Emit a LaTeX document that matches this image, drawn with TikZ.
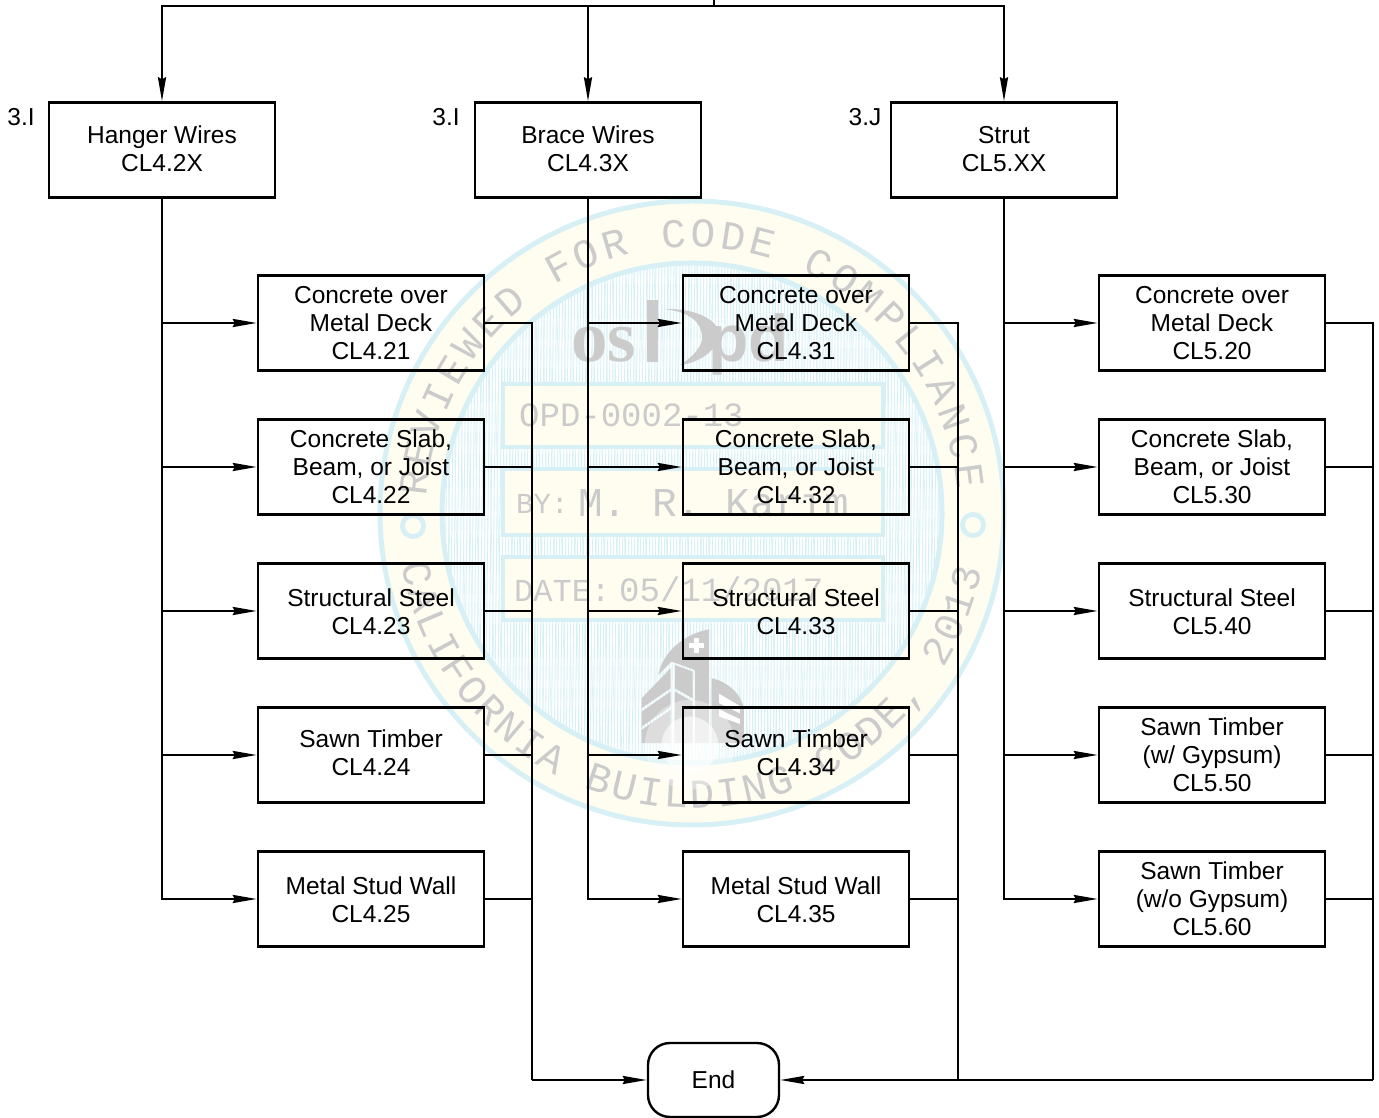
\documentclass[tikz,border=0pt]{standalone}
\usepackage{fontspec}
\setmainfont{Liberation Sans}
\newfontfamily\stampfont{Liberation Mono}
\newfontfamily\logofont{Liberation Serif}
\usetikzlibrary{arrows.meta,decorations.text}
\definecolor{stampcyan}{RGB}{214,240,245}
\definecolor{stampivory}{RGB}{255,253,240}
\definecolor{stampgray}{RGB}{203,203,203}
\tikzset{
  wire/.style={line width=2.4pt},
  flow/.style={wire, -{Stealth[length=24pt,width=8pt,inset=2pt]}},
  box/.style={draw, line width=2.4pt, minimum width=226pt, minimum height=95pt, align=center,
    inner sep=0pt, font=\fontsize{24.5}{28}\selectfont},
  ref/.style={font=\fontsize{24.5}{28}\selectfont},
  stamptext/.style={text=stampgray, inner sep=0pt},
  slip/.style={draw=stampcyan, fill=stampivory, line width=4pt},
  logo/.style={fill=stampgray, draw=none}
}
\begin{document}
\begin{tikzpicture}[x=1pt, y=1pt]
  \useasboundingbox (0,0) rectangle (1379,1118);
  % stamp under the chart
  \fill[stampivory] (692,605) circle[radius=312];
  \draw[stampcyan, line width=5pt] (692,605) circle[radius=312];
  \fill[white] (692,605) circle[radius=250];
  \begin{scope}
    \clip (692,605) circle[radius=250];
    \foreach \hx in {440,443,...,944}
      \draw[stampcyan, line width=0.9pt] (\hx,350) -- (\hx+6,860);
    \foreach \hx in {440,447,...,944}
      \draw[stampcyan!80, line width=0.7pt] (\hx,350) -- (\hx-10,860);
  \end{scope}
  \draw[stampcyan, line width=5pt] (692,605) circle[radius=250];
  \fill[stampcyan] (413,592) circle[radius=13];
  \fill[stampivory] (413,592) circle[radius=8];
  \fill[stampcyan] (973,593) circle[radius=13];
  \fill[stampivory] (973,593) circle[radius=8];
  \path[decorate, decoration={text along path, text color=stampgray, text align=fit to path,
      text={|\stampfont\fontsize{41}{41}\selectfont|REVIEWED FOR CODE COMPLIANCE}}]
    (692,605) ++(176.5:266) arc[start angle=176.5, end angle=5, radius=266];
  \path[decorate, decoration={text along path, text color=stampgray, text align=fit to path,
      text={|\stampfont\fontsize{41}{41}\selectfont|CALIFORNIA BUILDING CODE, 2013}}]
    (692,605) ++(190:295) arc[start angle=190, end angle=349, radius=295];
  \draw[slip] (503,671) rectangle (883,734);
  \draw[slip] (503,583) rectangle (883,649);
  \draw[slip] (503,498) rectangle (883,561);
  \node[stamptext, anchor=base west, font=\stampfont\fontsize{34}{34}\selectfont] (opdno) at (519,691) {OPD-0002-13};
  \node[stamptext, anchor=base west, font=\stampfont\fontsize{29}{29}\selectfont] (byline) at (516,604) {BY:};
  \node[stamptext, anchor=base west, font=\stampfont\fontsize{41}{41}\selectfont] (byname) at (578,601) {M. R. Karim};
  \node[stamptext, anchor=base west, font=\stampfont\fontsize{32}{32}\selectfont] (dateline) at (514,516) {DATE:};
  \node[stamptext, anchor=base west, font=\stampfont\fontsize{34}{34}\selectfont] (dateval) at (619,516) {05/11/2017};
  % logo
  \node[stamptext, anchor=base west, font=\logofont\bfseries\fontsize{73}{73}\selectfont] (logoa) at (571,756) {os};
  \node[stamptext, anchor=base west, font=\bfseries\fontsize{66}{66}\selectfont] (logob) at (708,756) {pd};
  \fill[logo] (647,818) rectangle (658,756);
  \fill[logo] (664,809) .. controls (700,810) and (724,795) .. (718,778)
    .. controls (712,762) and (692,754) .. (680,753)
    .. controls (694,762) and (703,772) .. (702,782) .. controls (701,796) and (690,806) .. (664,809) -- cycle;
  % building, drawn in crop units
  \begin{scope}[shift={(600,498)}, x=0.333pt, y=-0.333pt]
    \fill[logo] (175,165) .. controls (190,90) and (260,40) .. (328,28) -- (328,370) -- (285,370) -- (285,150) -- (215,125) -- cycle;
    \fill[logo] (125,235) -- (212,145) -- (212,205) -- (125,265) -- cycle;
    \fill[logo] (125,275) -- (212,215) -- (212,260) -- (125,320) -- cycle;
    \fill[logo] (125,330) -- (212,270) -- (212,370) -- (125,370) -- cycle;
    \fill[logo] (225,135) -- (278,155) -- (278,235) -- (225,205) -- cycle;
    \fill[logo] (225,215) -- (278,245) -- (278,370) -- (225,370) -- cycle;
    \fill[logo] (335,175) .. controls (385,185) and (425,225) .. (432,265) -- (432,370) -- (335,370) -- cycle;
    \fill[white] (358,222) -- (420,258) -- (420,280) -- (358,250) -- cycle;
    \fill[white] (358,268) -- (420,298) -- (420,312) -- (358,290) -- cycle;
    \fill[white] (282,55) rectangle (298,100);
    \fill[white] (268,70) rectangle (312,85);
    \fill[white, opacity=0.35] (270,375) circle[radius=135];
    \fill[white, opacity=0.6] (270,375) circle[radius=85];
  \end{scope}
  % heads
  \node[box] (hanger) at (162,968) {Hanger Wires\\CL4.2X\vspace{3pt}};
  \node[box] (brace) at (588,968) {Brace Wires\\CL4.3X\vspace{3pt}};
  \node[box] (strut) at (1004,968) {Strut\\CL5.XX\vspace{2pt}};
  \node[ref] (refa) at (21,1001) {3.I};
  \node[ref] (refb) at (446,1001) {3.I};
  \node[ref] (refc) at (865,1001) {3.J};
  % left column
  \node[box] (cl421) at (371,795) {Concrete over\\Metal Deck\\CL4.21};
  \node[box] (cl422) at (371,651) {Concrete Slab,\\Beam, or Joist\\CL4.22};
  \node[box] (cl423) at (371,507) {Structural Steel\\CL4.23\vspace{-2pt}};
  \node[box] (cl424) at (371,363) {Sawn Timber\\CL4.24\vspace{4pt}};
  \node[box] (cl425) at (371,219) {Metal Stud Wall\\CL4.25\vspace{-2pt}};
  % middle column
  \node[box] (cl431) at (796,795) {Concrete over\\Metal Deck\\CL4.31};
  \node[box] (cl432) at (796,651) {Concrete Slab,\\Beam, or Joist\\CL4.32};
  \node[box] (cl433) at (796,507) {Structural Steel\\CL4.33\vspace{-2pt}};
  \node[box] (cl434) at (796,363) {Sawn Timber\\CL4.34\vspace{4pt}};
  \node[box] (cl435) at (796,219) {Metal Stud Wall\\CL4.35\vspace{-2pt}};
  % right column
  \node[box] (cl520) at (1212,795) {Concrete over\\Metal Deck\\CL5.20};
  \node[box] (cl530) at (1212,651) {Concrete Slab,\\Beam, or Joist\\CL5.30};
  \node[box] (cl540) at (1212,507) {Structural Steel\\CL5.40\vspace{-2pt}};
  \node[box] (cl550) at (1212,363) {Sawn Timber\\(w/ Gypsum)\\CL5.50};
  \node[box] (cl560) at (1212,219) {Sawn Timber\\(w/o Gypsum)\\CL5.60};
  \node[box, rounded corners=22pt, minimum width=131pt, minimum height=74pt] (done) at (713.5,38) {End\vspace{-6pt}};
  % top feed
  \coordinate (feedin) at (714,1118);
  \coordinate (feedtap) at (714,1112);
  \draw[wire] (feedin) -- (feedtap);
  \draw[flow] (feedtap) -| (hanger.north);
  \draw[flow] (feedtap) -| (brace.north);
  \draw[flow] (feedtap) -| (strut.north);
  % trunks into the columns
  \foreach \kid in {cl421,cl422,cl423,cl424,cl425}
    \draw[flow] (hanger.south) |- (\kid.west);
  \foreach \kid in {cl431,cl432,cl433,cl434,cl435}
    \draw[flow] (brace.south) |- (\kid.west);
  \foreach \kid in {cl520,cl530,cl540,cl550,cl560}
    \draw[flow] (strut.south) |- (\kid.west);
  % buses down to End
  \coordinate (busa) at (532,38);
  \coordinate (busb) at (958,38);
  \coordinate (busc) at (1373,38);
  \foreach \kid in {cl421,cl422,cl423,cl424,cl425}
    \draw[wire] (\kid.east) -| (busa);
  \foreach \kid in {cl431,cl432,cl433,cl434,cl435}
    \draw[wire] (\kid.east) -| (busb);
  \foreach \kid in {cl520,cl530,cl540,cl550,cl560}
    \draw[wire] (\kid.east) -| (busc);
  \draw[flow] (busa) -- (done.west);
  \draw[flow] (busc) -- (done.east);
\end{tikzpicture}
\end{document}
